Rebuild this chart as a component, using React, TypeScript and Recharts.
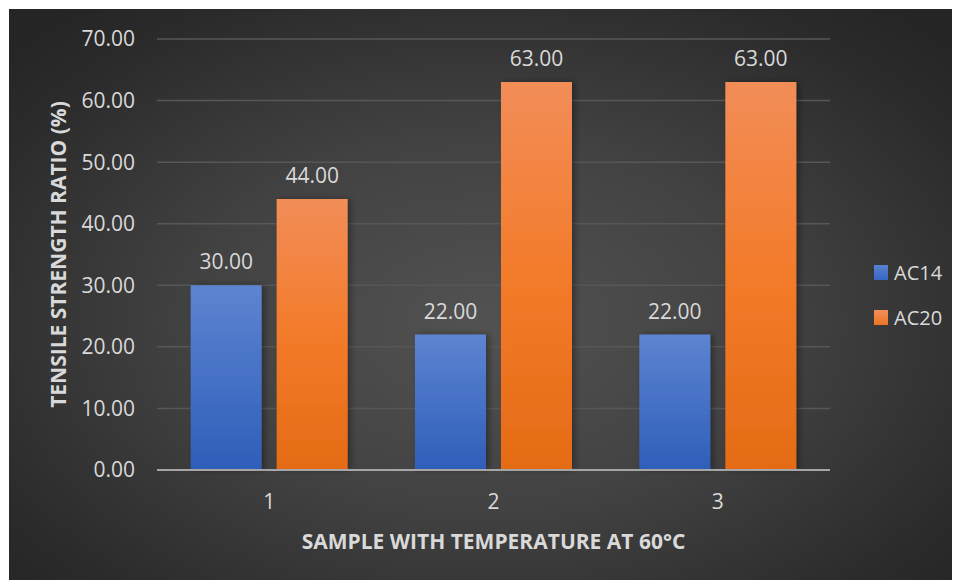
import React from 'react';
import { BarChart, Bar, XAxis, YAxis, CartesianGrid, Legend, LabelList } from 'recharts';

// Sample groups and tensile strength ratio (%) per binder grade
const samples = ['1', '2', '3'];
const ac14Values = [30, 22, 22];
const ac20Values = [44, 63, 63];
const yTicks = [0, 10, 20, 30, 40, 50, 60, 70];

const seriesNames = ['AC14', 'AC20'];

const data = samples.map((s, i) => ({
  sample: s,
  AC14: ac14Values[i],
  AC20: ac20Values[i],
}));

const FONT = '"Open Sans", "Liberation Sans", sans-serif';
const TEXT = '#d9d9d9';

const YTitle = (props: any) => {
  const vb = props.viewBox || {};
  const cx = vb.x + 49;
  const cy = vb.y + vb.height / 2;
  return (
    <text
      x={cx}
      y={cy}
      transform={`rotate(-90, ${cx}, ${cy})`}
      textAnchor="middle"
      dominantBaseline="central"
      fill={TEXT}
      fontFamily={FONT}
      fontWeight={700}
      fontSize={21}
    >
      TENSILE STRENGTH RATIO (%)
    </text>
  );
};

const XTitle = (props: any) => {
  const vb = props.viewBox || {};
  const cx = vb.x + vb.width / 2;
  const cy = vb.y + 71;
  return (
    <text
      x={cx}
      y={cy}
      textAnchor="middle"
      dominantBaseline="central"
      fill={TEXT}
      fontFamily={FONT}
      fontWeight={700}
      fontSize={21}
    >
      SAMPLE WITH TEMPERATURE AT 60°C
    </text>
  );
};

const LegendBox = () => (
  <div style={{ fontFamily: FONT, fontSize: 20, color: TEXT }}>
    {seriesNames.map((n, i) => (
      <div key={n} style={{ display: 'flex', alignItems: 'center', height: 45 }}>
        <span
          style={{
            display: 'inline-block',
            width: 14,
            height: 15,
            marginRight: 6,
            background: `linear-gradient(${i === 0 ? '#5a82d0, #3566c2' : '#f28e58, #ec7424'})`,
          }}
        />
        {n}
      </div>
    ))}
  </div>
);

export default function App() {
  return (
    <div style={{ paddingLeft: 1, paddingTop: 1 }}>
      <div
        style={{
          width: 951,
          height: 571,
          background:
            'radial-gradient(ellipse 68% 72% at 50% 55%, #525252 0%, #424242 45%, #2b2b2b 85%, #252525 100%)',
        }}
      >
        <BarChart
          width={951}
          height={571}
          data={data}
          margin={{ top: 30, right: 50, left: 0, bottom: 0 }}
          barCategoryGap="15%"
          barGap={15}
        >
          <defs>
            <linearGradient id="gradAC14" x1="0" y1="0" x2="0" y2="1">
              <stop offset="0%" stopColor="#5d84d1" />
              <stop offset="100%" stopColor="#2e5eb9" />
            </linearGradient>
            <linearGradient id="gradAC20" x1="0" y1="0" x2="0" y2="1">
              <stop offset="0%" stopColor="#f28d58" />
              <stop offset="50%" stopColor="#f37b2a" />
              <stop offset="100%" stopColor="#e56b15" />
            </linearGradient>
            <filter id="barShadow" x="-20%" y="-5%" width="140%" height="110%">
              <feDropShadow dx="3" dy="0" stdDeviation="3" floodColor="#000" floodOpacity="0.35" />
            </filter>
          </defs>
          <CartesianGrid vertical={false} stroke="#575757" strokeWidth={1.5} />
          <XAxis
            dataKey="sample"
            height={110}
            tickLine={false}
            axisLine={{ stroke: '#a6a6a6', strokeWidth: 2 }}
            tick={{ fill: TEXT, fontFamily: FONT, fontSize: 21 }}
            tickMargin={18}
            label={{ content: <XTitle /> }}
          />
          <YAxis
            width={148}
            domain={[0, 70]}
            ticks={yTicks}
            tickFormatter={(v: number) => v.toFixed(2)}
            tickLine={false}
            axisLine={false}
            tick={{ fill: TEXT, fontFamily: FONT, fontSize: 21 }}
            tickMargin={16}
            label={{ content: <YTitle /> }}
          />
          <Legend
            layout="vertical"
            align="right"
            verticalAlign="middle"
            width={80}
            content={<LegendBox />}
            wrapperStyle={{ right: 6 }}
          />
          <Bar dataKey="AC14" fill="url(#gradAC14)" filter="url(#barShadow)" isAnimationActive={false}>
            <LabelList
              dataKey="AC14"
              position="top"
              offset={16}
              formatter={(v: any) => Number(v).toFixed(2)}
              style={{ fill: TEXT, fontFamily: FONT, fontSize: 21 }}
            />
          </Bar>
          <Bar dataKey="AC20" fill="url(#gradAC20)" filter="url(#barShadow)" isAnimationActive={false}>
            <LabelList
              dataKey="AC20"
              position="top"
              offset={16}
              formatter={(v: any) => Number(v).toFixed(2)}
              style={{ fill: TEXT, fontFamily: FONT, fontSize: 21 }}
            />
          </Bar>
        </BarChart>
      </div>
    </div>
  );
}
